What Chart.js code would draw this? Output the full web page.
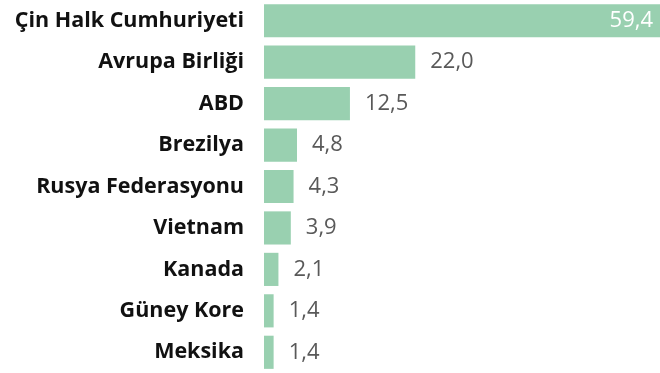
<!DOCTYPE html>
<html>
<head>
<meta charset="utf-8">
<script src="https://cdn.jsdelivr.net/npm/chart.js@4/dist/chart.umd.min.js"></script>
<style>
  html, body { margin: 0; padding: 0; background: #fff; }
  canvas { display: block; }
</style>
</head>
<body>
<canvas id="myChart" width="660" height="373"></canvas>
<script>
const countries = [
  "Çin Halk Cumhuriyeti",
  "Avrupa Birliği",
  "ABD",
  "Brezilya",
  "Rusya Federasyonu",
  "Vietnam",
  "Kanada",
  "Güney Kore",
  "Meksika",
];
const shares = [59.4, 22.0, 12.5, 4.8, 4.3, 3.9, 2.1, 1.4, 1.4];

const fontFamily = "'Open Sans', 'Noto Sans', sans-serif";

// value labels: outside the bar in grey, inside in white when the bar runs off the edge
const valueLabels = {
  id: "valueLabels",
  afterDatasetsDraw(chart) {
    const { ctx, chartArea } = chart;
    const meta = chart.getDatasetMeta(0);
    ctx.save();
    ctx.font = "22px " + fontFamily;
    ctx.textBaseline = "middle";
    meta.data.forEach((bar, i) => {
      const text = shares[i].toFixed(1).replace(".", ",");
      if (bar.x >= chartArea.right) {
        ctx.fillStyle = "#ffffff";
        ctx.textAlign = "right";
        ctx.fillText(text, chartArea.right - 7, bar.y);
      } else {
        ctx.fillStyle = "#595959";
        ctx.textAlign = "left";
        ctx.fillText(text, bar.x + 15, bar.y);
      }
    });
    ctx.restore();
  },
};

const ctx = document.getElementById("myChart").getContext("2d");
const mychart = new Chart(ctx, {
  type: "bar",
  data: {
    labels: countries,
    datasets: [
      {
        data: shares,
        backgroundColor: "#99d0b0",
        barPercentage: 0.8,
        categoryPercentage: 1.0,
      },
    ],
  },
  options: {
    indexAxis: "y",
    animation: false,
    responsive: false,
    layout: { padding: { top: -3, bottom: -3, left: 0, right: 0 } },
    plugins: {
      legend: { display: false },
      tooltip: { enabled: false },
    },
    scales: {
      x: {
        display: false,
        min: 0,
        max: 57.6,
      },
      y: {
        grid: { display: false },
        border: { display: false },
        ticks: {
          color: "#111111",
          padding: 12,
          font: { family: fontFamily, size: 21.5, weight: "bold" },
        },
        afterFit(scale) {
          // bars start at a fixed x; labels sit in the middle of each band, so no extra top/bottom room
          scale.width = 264;
          scale.paddingTop = 0;
          scale.paddingBottom = 0;
        },
      },
    },
  },
  plugins: [valueLabels],
});
</script>
</body>
</html>
